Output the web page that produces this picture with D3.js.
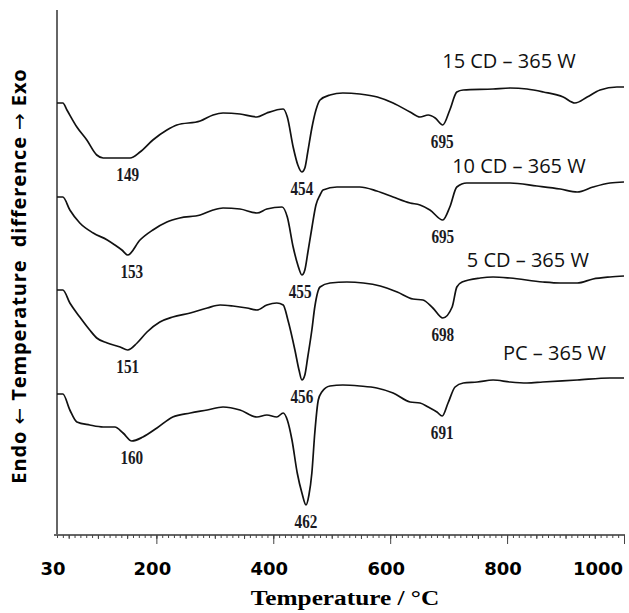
<!DOCTYPE html>
<html>
<head>
<meta charset="utf-8">
<script src="https://cdn.jsdelivr.net/npm/d3@7"></script>
<style>
  body { margin: 0; background: #fff; }
</style>
</head>
<body>
<svg id="chart" width="629" height="613"></svg>
<script>
// DTA curves: [temperature °C, signal (a.u., curves stacked)]
var cd15 = [[30,432],[40,432],[47,425],[64,408],[81,395],[98,380],[109,377],[155,377],[172,383],[194,395],[218,405],[235,410],[275,414],[297,420],[314,422],[343,421],[372,418],[389,422],[417,426],[424,418],[434,388],[442,370],[449,363],[454,367],[459,383],[466,407],[473,425],[480,435],[497,440],[519,442],[548,441],[578,438],[605,432],[634,423],[651,418],[665,420],[677,417],[690,410],[702,425],[714,443],[725,445],[776,446],[805,447],[834,446],[862,443],[896,438],[916,432],[937,438],[959,445],[988,448],[1000,448]];
var cd10 = [[30,338],[40,338],[52,325],[69,312],[92,302],[116,295],[129,290],[141,285],[151,280],[172,295],[194,305],[218,313],[240,317],[275,320],[297,325],[314,327],[343,326],[372,322],[389,326],[415,328],[424,318],[434,288],[442,270],[449,260],[454,265],[459,282],[466,307],[473,330],[480,340],[485,345],[509,348],[548,348],[577,344],[605,338],[634,332],[651,330],[668,325],[690,315],[702,328],[714,348],[731,352],[776,352],[805,352],[851,349],[891,346],[920,343],[947,348],[976,352],[1000,353]];
var cd5 = [[30,245],[40,245],[52,232],[69,218],[86,205],[98,197],[116,192],[138,188],[151,185],[167,192],[184,203],[206,213],[228,218],[258,222],[287,227],[309,230],[331,229],[355,227],[372,225],[389,230],[406,232],[417,230],[425,215],[437,185],[444,165],[449,155],[454,160],[459,178],[466,205],[471,228],[480,248],[497,252],[526,253],[554,252],[583,249],[612,243],[639,236],[656,235],[673,227],[690,217],[706,228],[714,248],[723,253],[754,257],[776,258],[805,257],[861,253],[891,252],[920,252],[947,256],[976,258],[1000,259]];
var pc = [[30,141],[40,141],[52,125],[64,113],[86,110],[109,108],[129,108],[143,102],[158,94],[177,98],[201,107],[228,118],[258,122],[287,125],[314,128],[343,125],[372,118],[389,120],[406,118],[417,122],[424,115],[432,95],[441,62],[449,42],[456,30],[461,40],[466,62],[471,102],[477,135],[483,143],[497,149],[519,150],[548,149],[577,147],[605,142],[634,133],[651,132],[665,128],[680,123],[689,119],[699,132],[711,148],[725,152],[749,153],[776,155],[805,153],[834,152],[861,153],[920,155],[976,157],[1000,157]];

var seriesNames = ["15 CD \u2013 365 W", "10 CD \u2013 365 W", "5 CD \u2013 365 W", "PC \u2013 365 W"];
// where each name sits: [temperature, signal]
var nameAt = [[689,467],[706,362],[731,268],[793,175]];
// peak labels: [text, temperature where the dip is drawn]
var peaks15 = [["149",151],["454",449],["695",689]];
var peaks10 = [["153",158],["455",446],["695",690]];
var peaks5 = [["151",151],["456",449],["698",690]];
var peaksPC = [["160",158],["462",456],["691",689]];

var xTickLabels = [30, 200, 400, 600, 800, 1000];

var curves = [cd15, cd10, cd5, pc];
var peaks = [peaks15, peaks10, peaks5, peaksPC];

var svg = d3.select("#chart");
var x = d3.scaleLinear().domain([30, 1000]).range([57, 624]);
var y = d3.scaleLinear().domain([0, 525]).range([535, 10]);

// axes
var axisColor = "#666";
svg.append("line").attr("x1", 57).attr("x2", 57).attr("y1", 10).attr("y2", 535)
  .attr("stroke", axisColor).attr("stroke-width", 2);
svg.append("line").attr("x1", 54).attr("x2", 625).attr("y1", 535).attr("y2", 535)
  .attr("stroke", axisColor).attr("stroke-width", 2);

function ticks(vals, size) {
  var g = svg.append("g").attr("transform", "translate(0,535)")
    .call(d3.axisBottom(x).tickValues(vals).tickSize(size).tickFormat(""));
  g.select(".domain").remove();
  g.selectAll("line").attr("stroke", "#444").attr("stroke-width", 1);
}
ticks(d3.range(30, 1001, 10), 3);
ticks(d3.range(50, 1001, 50), 4);
ticks(d3.range(200, 1001, 200), 9);

svg.append("g").selectAll("text").data(xTickLabels).enter().append("text")
  .attr("x", function (d) { return d == 1000 ? x(d) - 1 : x(d) - 4; })
  .attr("y", 575)
  .attr("text-anchor", function (d) { return d == 1000 ? "end" : "middle"; })
  .attr("font-family", "DejaVu Sans").attr("font-weight", "bold").attr("font-size", 18)
  .text(function (d) { return d; });

svg.append("text")
  .attr("transform", "translate(345,605) scale(1.15,1)")
  .attr("text-anchor", "middle")
  .attr("font-family", "Liberation Serif").attr("font-weight", "bold").attr("font-size", 22)
  .text("Temperature / \u00B0C");

// y title, arrows in DejaVu so they come out long
var yt = svg.append("text")
  .attr("transform", "translate(26,276) rotate(-90)")
  .attr("text-anchor", "middle")
  .attr("font-family", "Open Sans").attr("font-weight", "bold").attr("font-size", 20)
  .attr("letter-spacing", 0.9)
  .attr("xml:space", "preserve");
yt.append("tspan").text("Endo ");
yt.append("tspan").attr("font-family", "DejaVu Sans").attr("font-weight", "normal").text("\u2190");
yt.append("tspan").text(" Temperature  difference ");
yt.append("tspan").attr("font-family", "DejaVu Sans").attr("font-weight", "normal").text("\u2192");
yt.append("tspan").text(" Exo");

// curves
var line = d3.line().x(function (d) { return x(d[0]); }).y(function (d) { return y(d[1]); })
  .curve(d3.curveMonotoneX);

svg.append("g").selectAll("path").data(curves).enter().append("path")
  .attr("d", line).attr("fill", "none").attr("stroke", "#111").attr("stroke-width", 1.7);

// series names
svg.append("g").selectAll("text").data(seriesNames).enter().append("text")
  .attr("x", function (d, i) { return x(nameAt[i][0]); })
  .attr("y", function (d, i) { return y(nameAt[i][1]); })
  .attr("font-family", "Open Sans").attr("font-size", 20).attr("fill", "#111")
  .text(function (d) { return d; });

// peak labels under the dips
peaks.forEach(function (list, i) {
  var c = curves[i];
  list.forEach(function (p) {
    var near = c.filter(function (d) { return Math.abs(d[0] - p[1]) <= 12; });
    var vmin = d3.min(near, function (d) { return d[1]; });
    svg.append("text")
      .attr("transform", "translate(" + x(p[1]) + "," + (y(vmin) + 23) + ") scale(0.8,1)")
      .attr("text-anchor", "middle")
      .attr("font-family", "Liberation Serif").attr("font-weight", "bold").attr("font-size", 19)
      .attr("fill", "#1a1a22")
      .text(p[0]);
  });
});
</script>
</body>
</html>
